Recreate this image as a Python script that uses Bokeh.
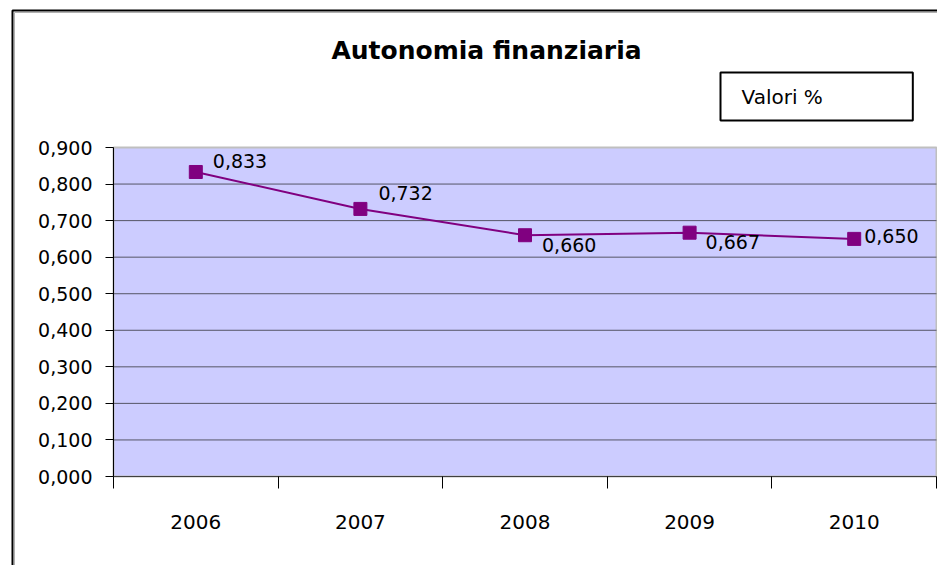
from bokeh.plotting import figure
from bokeh.models import ColumnDataSource, FixedTicker, Label, LabelSet, Range1d
from bokeh.core.properties import value
from bokeh.embed import file_html
from bokeh.resources import INLINE

# ---- data ----
years = ["2006", "2007", "2008", "2009", "2010"]
values = [0.833, 0.732, 0.660, 0.667, 0.650]
value_labels = ["0,833", "0,732", "0,660", "0,667", "0,650"]
y_ticks = [0.0, 0.1, 0.2, 0.3, 0.4, 0.5, 0.6, 0.7, 0.8, 0.9]
y_tick_labels = ["0,000", "0,100", "0,200", "0,300", "0,400",
                 "0,500", "0,600", "0,700", "0,800", "0,900"]
title_text = "Autonomia finanziaria"
note_text = "Valori %"

# label placement (pixels), style only
label_dx = [17, 18, 17, 16, 10]
label_dy = [11, 16, -10, -9, 3]

FONT = "DejaVu Sans"
W, H = 937, 565
# pixel layout of the plot area inside the canvas (style constants)
PL, PR, PT, PB = 113, 936, 147, 476
N = len(years)
YMAX = y_ticks[-1]
x_per = (PR - PL) / N
y_per = (PB - PT) / YMAX


def px2x(px):
    return (px - PL) / x_per


def py2y(py):
    return (PB - py) / y_per


xs = [i + 0.5 for i in range(N)]
src = ColumnDataSource(dict(x=xs, y=values, lab=value_labels,
                            dx=label_dx, dy=label_dy))

p = figure(width=W, height=H, output_backend="svg", toolbar_location=None,
           x_range=Range1d(px2x(0), px2x(W)),
           y_range=Range1d(py2y(H), py2y(0)),
           min_border_left=0, min_border_right=0,
           min_border_top=0, min_border_bottom=0)
p.background_fill_color = "white"
p.border_fill_color = "white"
p.outline_line_color = None
p.grid.visible = False

# outer chart border (light shadow + black line)
p.quad(left=px2x(14), right=px2x(W + 50), top=py2y(12), bottom=py2y(H + 50),
       fill_color=None, line_color="#B0B0B0", line_width=1)
p.quad(left=px2x(12), right=px2x(W + 50), top=py2y(10), bottom=py2y(H + 50),
       fill_color=None, line_color="black", line_width=2)

# plot area
p.quad(left=0, right=N, bottom=0, top=YMAX,
       fill_color="#CCCCFF", line_color="#BFBFBF", line_width=2)
grid_y = y_ticks[1:-1]
p.segment(x0=[0] * len(grid_y), x1=[N] * len(grid_y), y0=grid_y, y1=grid_y,
          line_color="#555566", line_width=1)

# y axis
ya = p.yaxis[0]
ya.fixed_location = 0
ya.bounds = (0, YMAX)
ya.ticker = FixedTicker(ticks=y_ticks)
ya.major_label_overrides = {t: l for t, l in zip(y_ticks, y_tick_labels)}
ya.major_label_text_font = FONT
ya.major_label_text_font_size = "19px"
ya.major_label_text_color = "black"
ya.major_tick_in = 0
ya.major_tick_out = 8
ya.minor_tick_line_color = None
ya.axis_line_color = "black"
ya.major_tick_line_color = "black"
ya.major_label_standoff = 13

# x axis: labels at centers, ticks at boundaries (minor ticks)
xa = p.xaxis[0]
xa.fixed_location = 0
xa.bounds = (0, N)
xa.ticker = FixedTicker(ticks=xs, minor_ticks=list(range(N + 1)))
xa.major_label_overrides = {x: y for x, y in zip(xs, years)}
xa.major_label_text_font = FONT
xa.major_label_text_font_size = "20px"
xa.major_label_text_color = "black"
xa.major_tick_in = 0
xa.major_tick_out = 0
xa.minor_tick_in = 0
xa.minor_tick_out = 12
xa.minor_tick_line_color = "black"
xa.axis_line_color = "#404040"
xa.major_label_standoff = 26

# series
p.line("x", "y", source=src, line_color="#800080", line_width=2)
p.scatter("x", "y", source=src, marker="square", size=13,
          fill_color="#800080", line_color="#800080")
p.add_layout(LabelSet(x="x", y="y", text="lab", source=src,
                      x_offset="dx", y_offset="dy",
                      text_font=value(FONT), text_font_size="19px",
                      text_color="black", text_baseline="middle",
                      text_align="left"))

# title
p.add_layout(Label(x=486, y=H - 50, x_units="screen", y_units="screen",
                   text=title_text, text_font=FONT, text_font_size="25px",
                   text_font_style="bold", text_align="center",
                   text_baseline="middle", text_color="black"))
# note box (padding order: left, right, top, bottom)
p.add_layout(Label(x=720, y=H - 96, x_units="screen", y_units="screen",
                   text=note_text, text_font=FONT, text_font_size="20px",
                   text_align="left", text_baseline="middle",
                   text_color="black", padding=(21, 90, 12, 12),
                   border_line_color="black", border_line_width=2,
                   background_fill_color="white"))

open("out.html", "w").write(file_html(p, INLINE))
